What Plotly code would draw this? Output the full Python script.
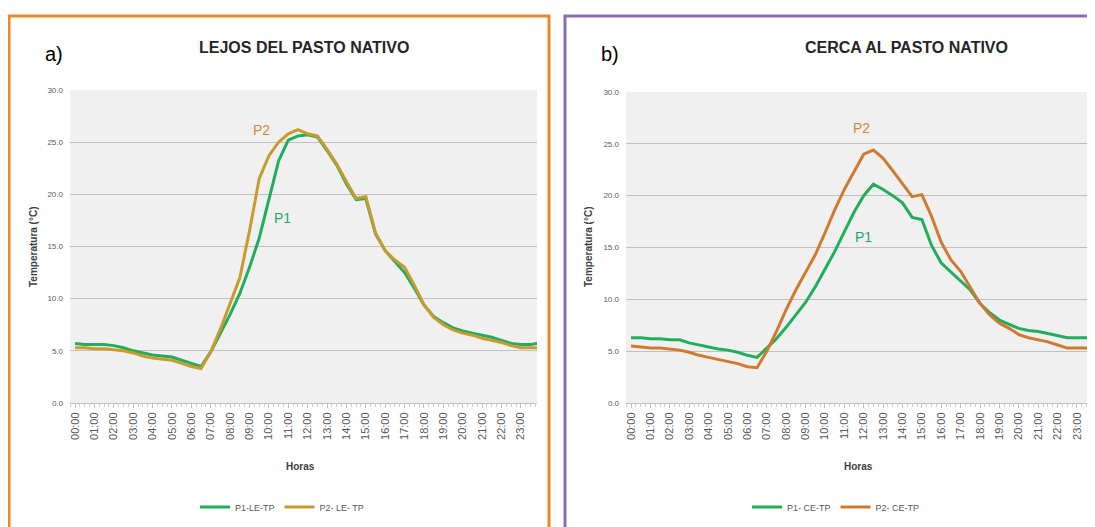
import plotly.graph_objects as go

# ---------------- data ----------------
hours = [0.0, 0.5, 1.0, 1.5, 2.0, 2.5, 3.0, 3.5, 4.0, 4.5, 5.0, 5.5,
         6.0, 6.5, 7.0, 7.5, 8.0, 8.5, 9.0, 9.5, 10.0, 10.5, 11.0, 11.5,
         12.0, 12.5, 13.0, 13.5, 14.0, 14.5, 15.0, 15.5, 16.0, 16.5, 17.0, 17.5,
         18.0, 18.5, 19.0, 19.5, 20.0, 20.5, 21.0, 21.5, 22.0, 22.5, 23.0, 23.5, 23.83]

tick_hours = list(range(24))
tick_labels = ["00:00", "01:00", "02:00", "03:00", "04:00", "05:00", "06:00", "07:00",
               "08:00", "09:00", "10:00", "11:00", "12:00", "13:00", "14:00", "15:00",
               "16:00", "17:00", "18:00", "19:00", "20:00", "21:00", "22:00", "23:00"]

# a) LEJOS DEL PASTO NATIVO
p1_le = [5.7, 5.6, 5.6, 5.6, 5.5, 5.3, 5.0, 4.8, 4.6, 4.5, 4.4, 4.1,
         3.8, 3.5, 4.9, 6.7, 8.5, 10.5, 13.0, 15.8, 19.6, 23.2, 25.2, 25.6,
         25.7, 25.5, 24.2, 22.8, 21.0, 19.5, 19.6, 16.2, 14.6, 13.5, 12.5, 11.0,
         9.4, 8.3, 7.7, 7.2, 6.9, 6.7, 6.5, 6.3, 6.0, 5.7, 5.6, 5.6, 5.7]
p2_le = [5.3, 5.3, 5.2, 5.2, 5.1, 5.0, 4.8, 4.5, 4.3, 4.2, 4.1, 3.8,
         3.5, 3.3, 4.9, 7.1, 9.5, 12.0, 16.5, 21.5, 23.7, 25.0, 25.8, 26.2,
         25.8, 25.6, 24.3, 22.9, 21.2, 19.6, 19.8, 16.3, 14.6, 13.7, 13.0, 11.3,
         9.4, 8.2, 7.5, 7.0, 6.7, 6.5, 6.2, 6.0, 5.8, 5.5, 5.3, 5.3, 5.3]

# b) CERCA AL PASTO NATIVO
p1_ce = [6.3, 6.3, 6.2, 6.2, 6.1, 6.1, 5.8, 5.6, 5.4, 5.2, 5.1, 4.9,
         4.6, 4.4, 5.3, 6.2, 7.3, 8.5, 9.7, 11.2, 12.9, 14.6, 16.5, 18.4,
         20.0, 21.1, 20.6, 20.0, 19.3, 17.9, 17.7, 15.2, 13.5, 12.6, 11.7, 10.9,
         9.6, 8.7, 8.0, 7.6, 7.2, 7.0, 6.9, 6.7, 6.5, 6.3, 6.3, 6.3, 6.3]
p2_ce = [5.5, 5.4, 5.3, 5.3, 5.2, 5.1, 4.9, 4.6, 4.4, 4.2, 4.0, 3.8,
         3.5, 3.4, 5.0, 6.9, 9.0, 10.9, 12.6, 14.3, 16.4, 18.6, 20.6, 22.3,
         24.0, 24.4, 23.6, 22.4, 21.2, 19.9, 20.1, 18.0, 15.5, 13.8, 12.7, 11.2,
         9.6, 8.5, 7.7, 7.2, 6.6, 6.3, 6.1, 5.9, 5.6, 5.3, 5.3, 5.3, 5.3]

y_ticks = [0, 5, 10, 15, 20, 25, 30]
y_tick_labels = ["0.0", "5.0", "10.0", "15.0", "20.0", "25.0", "30.0"]

# ---------------- styling ----------------
OFF = 8                      # page body margin
W, H = 1095 - OFF, 527 - OFF
GREEN = "#22ad5c"
GOLD = "#c99a2e"
ORANGE = "#d07a30"
TXT = "#595959"
SANS = "Liberation Sans, Arial, sans-serif"
NARROW = "Liberation Sans Narrow, Arial Narrow, Liberation Sans, sans-serif"


def px_x(p):
    return (p - OFF) / W


def px_y(p):
    return 1 - (p - OFF) / H


fig = go.Figure()

fig.add_trace(go.Scatter(x=hours, y=p1_le, mode="lines", name="P1-LE-TP",
                         line=dict(color=GREEN, width=3), xaxis="x", yaxis="y", legend="legend"))
fig.add_trace(go.Scatter(x=hours, y=p2_le, mode="lines", name="P2- LE- TP",
                         line=dict(color=GOLD, width=3), xaxis="x", yaxis="y", legend="legend"))
fig.add_trace(go.Scatter(x=hours, y=p1_ce, mode="lines", name="P1- CE-TP",
                         line=dict(color=GREEN, width=3), xaxis="x2", yaxis="y2", legend="legend2"))
fig.add_trace(go.Scatter(x=hours, y=p2_ce, mode="lines", name="P2- CE-TP",
                         line=dict(color=ORANGE, width=3), xaxis="x2", yaxis="y2", legend="legend2"))

xcommon = dict(
    tickmode="array", tickvals=tick_hours, ticktext=tick_labels, tickangle=-90,
    tickfont=dict(size=11, color=TXT, family=SANS),
    showgrid=False, zeroline=False, showline=True, linecolor="#bfbfbf", linewidth=1,
    ticks="outside", ticklen=4, tickcolor="#bfbfbf",
    minor=dict(ticks="outside", ticklen=3, tickcolor="#cfcfcf", dtick=0.25, showgrid=False),
    automargin=False, fixedrange=True,
)
ycommon = dict(
    range=[0, 30], tickmode="array", tickvals=y_ticks, ticktext=y_tick_labels,
    tickfont=dict(size=8, color=TXT, family=SANS),
    showgrid=True, gridcolor="#c0c0c0", gridwidth=1, zeroline=False,
    showline=False, ticks="", ticklabelstandoff=6,
    automargin=False, fixedrange=True,
)

fig.update_layout(
    template="none",
    width=W, height=H,
    margin=dict(l=0, r=0, t=0, b=0),
    paper_bgcolor="white",
    plot_bgcolor="#f0f0f0",
    xaxis=dict(domain=[px_x(70), px_x(537)], range=[-0.26, 23.83], anchor="y", **xcommon),
    yaxis=dict(domain=[px_y(403), px_y(90)], anchor="x", **ycommon),
    xaxis2=dict(domain=[px_x(626), 1.0], range=[-0.26, 23.93], anchor="y2", **xcommon),
    yaxis2=dict(domain=[px_y(403), px_y(92)], anchor="x2", **ycommon),
    legend=dict(orientation="h", x=px_x(282), y=px_y(507), xanchor="center", yanchor="middle",
                font=dict(size=9, color=TXT, family=NARROW), bgcolor="rgba(0,0,0,0)",
                itemwidth=30, tracegroupgap=0),
    legend2=dict(orientation="h", x=px_x(836), y=px_y(507), xanchor="center", yanchor="middle",
                 font=dict(size=9, color=TXT, family=NARROW), bgcolor="rgba(0,0,0,0)",
                 itemwidth=30, tracegroupgap=0),
    showlegend=True,
)

# panel borders
fig.add_shape(type="rect", xref="paper", yref="paper",
              x0=px_x(9), x1=px_x(549), y0=-0.05, y1=px_y(16),
              line=dict(color="#e8892a", width=3), fillcolor="rgba(0,0,0,0)", layer="below")
fig.add_shape(type="rect", xref="paper", yref="paper",
              x0=px_x(565), x1=1.05, y0=-0.05, y1=px_y(16),
              line=dict(color="#8e6bb5", width=3), fillcolor="rgba(0,0,0,0)", layer="below")

# titles and panel letters
for txt, xc in [("<b>LEJOS DEL PASTO NATIVO</b>", 304), ("<b>CERCA AL PASTO NATIVO</b>", 906)]:
    fig.add_annotation(text=txt, xref="paper", yref="paper", x=px_x(xc), y=px_y(47),
                       xanchor="center", yanchor="middle", showarrow=False,
                       font=dict(size=16, color="#262626", family=NARROW))
for txt, xc in [("a)", 54), ("b)", 610)]:
    fig.add_annotation(text=txt, xref="paper", yref="paper", x=px_x(xc), y=px_y(54),
                       xanchor="center", yanchor="middle", showarrow=False,
                       font=dict(size=20, color="black", family=SANS))

# axis titles
for xc, yc in [(300, 466), (858, 466)]:
    fig.add_annotation(text="<b>Horas</b>", xref="paper", yref="paper", x=px_x(xc), y=px_y(yc),
                       xanchor="center", yanchor="middle", showarrow=False,
                       font=dict(size=10, color="#404040", family=NARROW))
for xc in [33, 588]:
    fig.add_annotation(text="<b>Temperatura (°C)</b>", xref="paper", yref="paper",
                       x=px_x(xc), y=px_y(247), textangle=-90,
                       xanchor="center", yanchor="middle", showarrow=False,
                       font=dict(size=10, color="#404040", family=SANS))

# series labels inside plots
fig.add_annotation(text="P2", xref="x", yref="y", x=9.6, y=26.2, showarrow=False,
                   xanchor="center", yanchor="middle",
                   font=dict(size=14, color="#d08a3a", family=NARROW))
fig.add_annotation(text="P1", xref="x", yref="y", x=10.7, y=17.7, showarrow=False,
                   xanchor="center", yanchor="middle",
                   font=dict(size=14, color="#2aa56a", family=NARROW))
fig.add_annotation(text="P2", xref="x2", yref="y2", x=11.9, y=26.5, showarrow=False,
                   xanchor="center", yanchor="middle",
                   font=dict(size=14, color="#d08a3a", family=NARROW))
fig.add_annotation(text="P1", xref="x2", yref="y2", x=12.0, y=16.0, showarrow=False,
                   xanchor="center", yanchor="middle",
                   font=dict(size=14, color="#2aa56a", family=NARROW))

fig.write_html("out.html")
